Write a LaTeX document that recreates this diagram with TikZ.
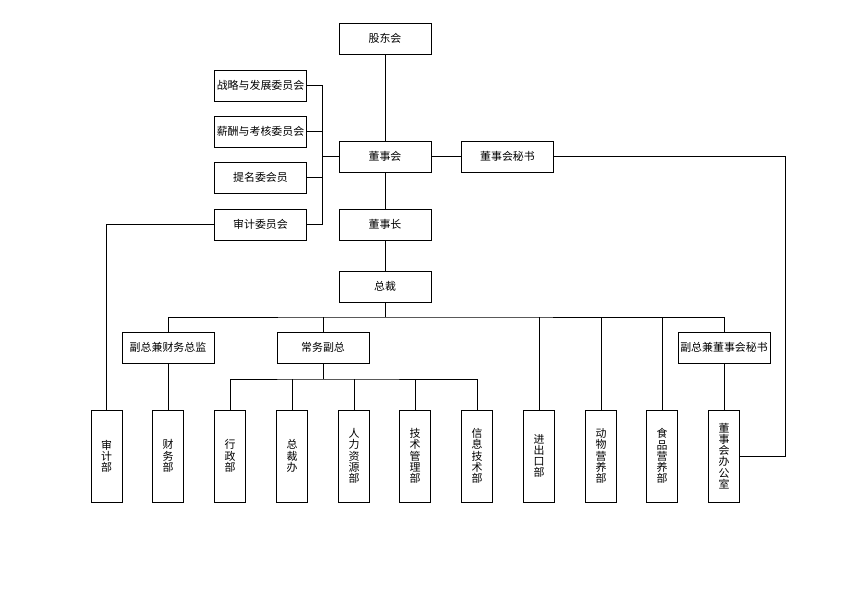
\documentclass[tikz,border=0pt]{standalone}
\usepackage{fontspec}
\setmainfont{Noto Sans CJK SC}
\usetikzlibrary{positioning}

\tikzset{
  hbox/.style={draw, line width=0.75pt, minimum width=69pt, minimum height=23.25pt, inner sep=1pt, font=\fontsize{8.2}{9}\selectfont},
  vbox/.style={draw, line width=0.75pt, minimum width=23.25pt, minimum height=69pt, inner sep=0pt, align=center, font=\fontsize{8.2}{8.4}\selectfont},
  conn/.style={line width=0.75pt}
}

\begin{document}
\begin{tikzpicture}[x=0.75pt,y=-0.75pt]
        \useasboundingbox (0,0) rectangle (855,589);

        % top of the chart
        \node[hbox] (gdh) at (385,38.5) {股东会};
        \node[hbox] (dsh) at (385,156.5) {董事会};
        \node[hbox] (dsms) at (507.5,156.5) {董事会秘书};
        \node[hbox] (dsz) at (385,224.5) {董事长};
        \node[hbox] (zc) at (385,286.5) {总裁};

        % committees
        \node[hbox] (wy1) at (260.5,85.5) {战略与发展委员会};
        \node[hbox] (wy2) at (260.5,131.5) {薪酬与考核委员会};
        \node[hbox] (wy3) at (260.5,177.5) {提名委会员};
        \node[hbox] (wy4) at (260.5,224.5) {审计委员会};

        % vice presidents
        \node[hbox] (fz1) at (168,347.5) {副总兼财务总监};
        \node[hbox] (cwfz) at (323,347.5) {常务副总};
        \node[hbox] (fz3) at (724,347.5) {副总兼董事会秘书};

        % departments
        \node[vbox] (sjb) at (106.5,456) {审\\计\\部};
        \node[vbox] (cwb) at (168,456) {财\\务\\部};
        \node[vbox] (xzb) at (230,456) {行\\政\\部};
        \node[vbox] (zcb) at (292,456) {总\\裁\\办};
        \node[vbox] (rlb) at (354,456) {人\\力\\资\\源\\部};
        \node[vbox] (jsb) at (415,456) {技\\术\\管\\理\\部};
        \node[vbox] (xxb) at (477,456) {信\\息\\技\\术\\部};
        \node[vbox] (jck) at (539,456) {进\\出\\口\\部};
        \node[vbox] (dwb) at (601,456) {动\\物\\营\\养\\部};
        \node[vbox] (spb) at (662,456) {食\\品\\营\\养\\部};
        \node[vbox] (bgs) at (724,456) {董\\事\\会\\办\\公\\室};

        \coordinate (cbus) at (322,156.5);
        \coordinate (rt) at (785,156.5);
        \coordinate (zbus) at (385,317);
        \coordinate (cbus2) at (323,379);

        \draw[conn] (gdh) -- (dsh);
        \draw[conn] (dsh) -- (dsms);
        \draw[conn] (dsh) -- (dsz);
        \draw[conn] (dsz) -- (zc);

        \draw[conn] (wy1.east) -| (cbus);
        \draw[conn] (wy4.east) -| (cbus);
        \draw[conn] (wy2.east) -- (wy2.east -| cbus);
        \draw[conn] (wy3.east) -- (wy3.east -| cbus);
        \draw[conn] (cbus) -- (dsh.west);

        \draw[conn] (dsms.east) -- (rt) |- (bgs.east);
        \draw[conn] (wy4.west) -| (sjb.north);

        \draw[conn] (zc) -- (zbus);
        \draw[conn] (fz1.north) |- (zbus) -| (fz3.north);
        \draw[conn] (cwfz.north) -- (cwfz.north |- zbus);
        \draw[conn] (jck.north) -- (jck.north |- zbus);
        \draw[conn] (dwb.north) -- (dwb.north |- zbus);
        \draw[conn] (spb.north) -- (spb.north |- zbus);

        \draw[conn] (fz1) -- (cwb);
        \draw[conn] (fz3) -- (bgs);

        \draw[conn] (cwfz) -- (cbus2);
        \draw[conn] (xzb.north) |- (cbus2) -| (xxb.north);
        \draw[conn] (zcb.north) -- (zcb.north |- cbus2);
        \draw[conn] (rlb.north) -- (rlb.north |- cbus2);
        \draw[conn] (jsb.north) -- (jsb.north |- cbus2);
      \end{tikzpicture}
\end{document}
